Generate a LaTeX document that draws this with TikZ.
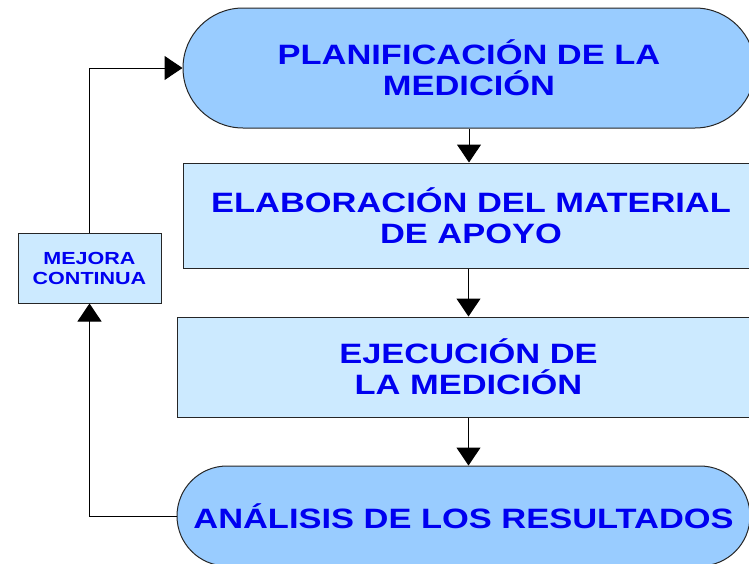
\documentclass[tikz,border=0pt]{standalone}
\usepackage{fontspec}
\newfontfamily\flowfont[FakeStretch=1.23]{Liberation Sans}
\usetikzlibrary{shapes.misc,arrows.meta}
\definecolor{pillblue}{HTML}{99CCFF}
\definecolor{boxblue}{HTML}{CCEAFF}
\definecolor{textblue}{HTML}{0000F0}
\begin{document}
\begin{tikzpicture}[x=1pt,y=-1pt,
    pill/.style={draw=black!85,line width=1pt,rounded rectangle,fill=pillblue,align=center,inner sep=0pt},
    stage/.style={draw=black!85,line width=1pt,rectangle,fill=boxblue,align=center,inner sep=0pt},
    label/.style={text=textblue,font=\flowfont\bfseries\fontsize{28}{31}\selectfont},
    flow/.style={line width=1pt,black,-{Triangle[width=24pt,length=18pt]}}]
        \useasboundingbox (0,0) rectangle (749,563);
        \clip (0,0) rectangle (749,563);
        %% Stages
        \node[pill,label,minimum width=572,minimum height=120] (plan) at (469,68) {PLANIFICACI\'ON DE LA\\MEDICI\'ON};
        \node[stage,label,minimum width=576,minimum height=105] (elab) at (471,215.5) {ELABORACI\'ON DEL MATERIAL\\DE APOYO};
        \node[stage,label,minimum width=583,minimum height=100] (ejec) at (468.5,367) {EJECUCI\'ON DE\\LA MEDICI\'ON};
        \node[pill,label,minimum width=573,minimum height=100] (anal) at (463.5,516) {AN\'ALISIS DE LOS RESULTADOS};
        %% Feedback box
        \node[stage,text=textblue,font=\flowfont\bfseries\fontsize{17.5}{20}\selectfont,minimum width=143,minimum height=70] (mejora) at (89.5,268) {MEJORA\\CONTINUA};
        %% Arrows
        \draw[flow] (plan.south) -- (plan.south |- elab.north);
        \draw[flow] (ejec.north |- elab.south) -- (ejec.north);
        \draw[flow] (ejec.south) -- (ejec.south |- anal.north);
        \draw[flow] (anal.west) -| (mejora.south);
        \draw[flow] (mejora.north) |- (plan.west);
    \end{tikzpicture}
\end{document}
